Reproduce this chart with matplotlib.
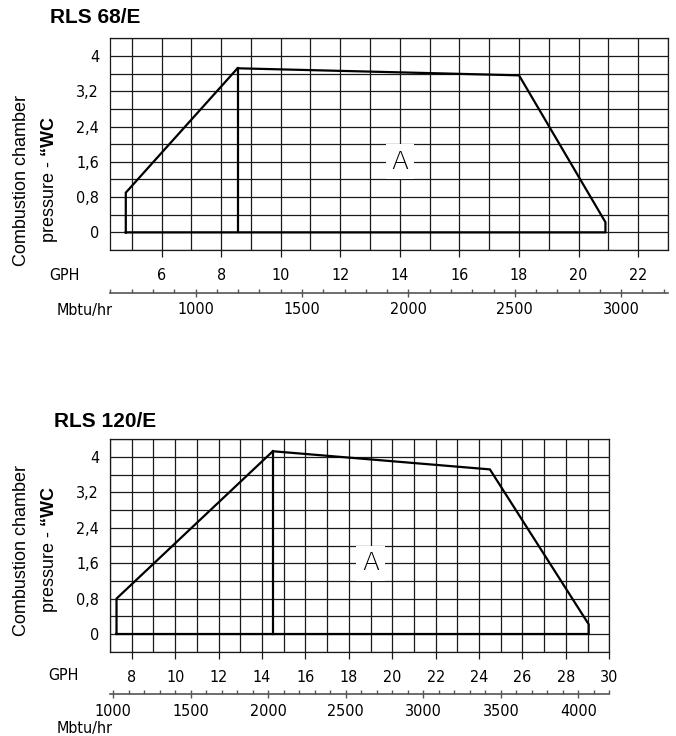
import matplotlib.pyplot as plt
from matplotlib.ticker import MultipleLocator, FixedLocator
from matplotlib.font_manager import FontProperties

# conversion used on the lower scale: 1 GPH of oil ~ 140 Mbtu/hr
MBTU_PER_GPH = 140

# RLS 68/E firing range (GPH, "WC)
gph_68 = [4.8, 4.8, 8.55, 18.0, 20.9, 20.9, 4.8]
wc_68 = [0, 0.9, 3.72, 3.56, 0.23, 0, 0]
split_68 = [8.55, 8.55]
split_wc_68 = [0, 3.72]
gph_ticks_68 = [6, 8, 10, 12, 14, 16, 18, 20, 22]
mbtu_ticks_68 = [1000, 1500, 2000, 2500, 3000]

# RLS 120/E firing range
gph_120 = [7.3, 7.3, 14.5, 24.5, 29.05, 29.05, 7.3]
wc_120 = [0, 0.8, 4.13, 3.72, 0.22, 0, 0]
split_120 = [14.5, 14.5]
split_wc_120 = [0, 4.13]
gph_ticks_120 = [8, 10, 12, 14, 16, 18, 20, 22, 24, 26, 28, 30]
mbtu_ticks_120 = [1000, 1500, 2000, 2500, 3000, 3500, 4000]

y_ticks = [0, 0.8, 1.6, 2.4, 3.2, 4]
y_labels = ['0', '0,8', '1,6', '2,4', '3,2', '4']

W, H = 676, 736
plt.rcParams['mathtext.fontset'] = 'custom'
plt.rcParams['mathtext.rm'] = 'Liberation Sans'
plt.rcParams['mathtext.bf'] = 'Liberation Sans:bold'

# narrow face for the scale numbers
tickfont = FontProperties(family='DejaVu Sans', stretch='condensed', size=11.5)

fig = plt.figure(figsize=(W / 100, H / 100), dpi=100)


def draw_chart(px_box, gph, wc, sx, sy, xlim, gph_ticks, mbtu_ticks, a_pos,
               title, title_xy, ylab_y):
    x0, y0, x1, y1 = px_box
    ax = fig.add_axes([x0 / W, 1 - y1 / H, (x1 - x0) / W, (y1 - y0) / H])
    ax.set_xlim(*xlim)
    ax.set_ylim(-0.4, 4.4)

    # grid: every 1 GPH and every 0.4 "WC
    ax.xaxis.set_minor_locator(MultipleLocator(1))
    ax.yaxis.set_minor_locator(MultipleLocator(0.4))
    ax.xaxis.set_major_locator(FixedLocator(gph_ticks))
    ax.set_yticks(y_ticks)
    ax.set_yticklabels(y_labels, fontproperties=tickfont)
    ax.set_xticklabels([str(t) for t in gph_ticks], fontproperties=tickfont)
    ax.grid(which='both', color='#1a1a1a', lw=0.9)
    ax.set_axisbelow(True)
    ax.tick_params(axis='x', which='major', length=5, width=0.9, pad=8, color='#1a1a1a')
    ax.tick_params(axis='y', which='major', length=0, pad=8)
    ax.tick_params(which='minor', length=0)
    for s in ax.spines.values():
        s.set_color('#1a1a1a')
        s.set_linewidth(0.9)

    ax.plot(gph, wc, color='black', lw=1.6, solid_joinstyle='miter', zorder=3)
    ax.plot(sx, sy, color='black', lw=1.6, zorder=3)

    ax.text(a_pos[0], a_pos[1], 'A', ha='center', va='center', fontsize=18,
            fontweight='light', family='DejaVu Sans', zorder=4,
            bbox=dict(facecolor='white', edgecolor='none', pad=4))

    # Mbtu/hr scale under the GPH scale
    loc = -42.7 / (y1 - y0)
    sec = ax.secondary_xaxis(loc, functions=(lambda g: g * MBTU_PER_GPH,
                                             lambda m: m / MBTU_PER_GPH))
    sec.xaxis.set_major_locator(FixedLocator(mbtu_ticks))
    sec.xaxis.set_minor_locator(MultipleLocator(100))
    sec.set_xticklabels([str(t) for t in mbtu_ticks], fontproperties=tickfont)
    sec.tick_params(which='major', direction='inout', length=6, width=1, color='#555555', pad=4)
    sec.tick_params(which='minor', direction='in', length=3, width=1, color='#555555')
    for s in sec.spines.values():
        s.set_color('#555555')
        s.set_linewidth(1.2)

    fig.text(title_xy[0] / W, 1 - title_xy[1] / H, title, fontsize=15,
             fontweight='bold', family='Liberation Sans', ha='left', va='center')
    fig.text(22 / W, 1 - ylab_y / H, 'Combustion chamber', rotation=90,
             fontsize=13, family='Liberation Sans', ha='center', va='center')
    fig.text(50 / W, 1 - ylab_y / H, 'pressure - $\\mathbf{“WC}$', rotation=90,
             fontsize=13, family='Liberation Sans', ha='center', va='center')
    return ax


draw_chart((110, 38.3, 668, 250), gph_68, wc_68, split_68, split_wc_68,
           (4.27, 23), gph_ticks_68, mbtu_ticks_68, (14, 1.6),
           'RLS 68/E', (50, 17.5), 180)
fig.text(64 / W, 1 - 275 / H, 'GPH', fontproperties=tickfont, ha='center', va='center')
fig.text(85 / W, 1 - 310 / H, 'Mbtu/hr', fontproperties=tickfont, ha='center', va='center')

draw_chart((110, 439.3, 609.3, 651.7), gph_120, wc_120, split_120, split_wc_120,
           (7, 30), gph_ticks_120, mbtu_ticks_120, (19, 1.6),
           'RLS 120/E', (54, 421.7), 550)
fig.text(63 / W, 1 - 675 / H, 'GPH', fontproperties=tickfont, ha='center', va='center')
fig.text(85 / W, 1 - 729 / H, 'Mbtu/hr', fontproperties=tickfont, ha='center', va='center')

fig.savefig('out.png', dpi=100)
